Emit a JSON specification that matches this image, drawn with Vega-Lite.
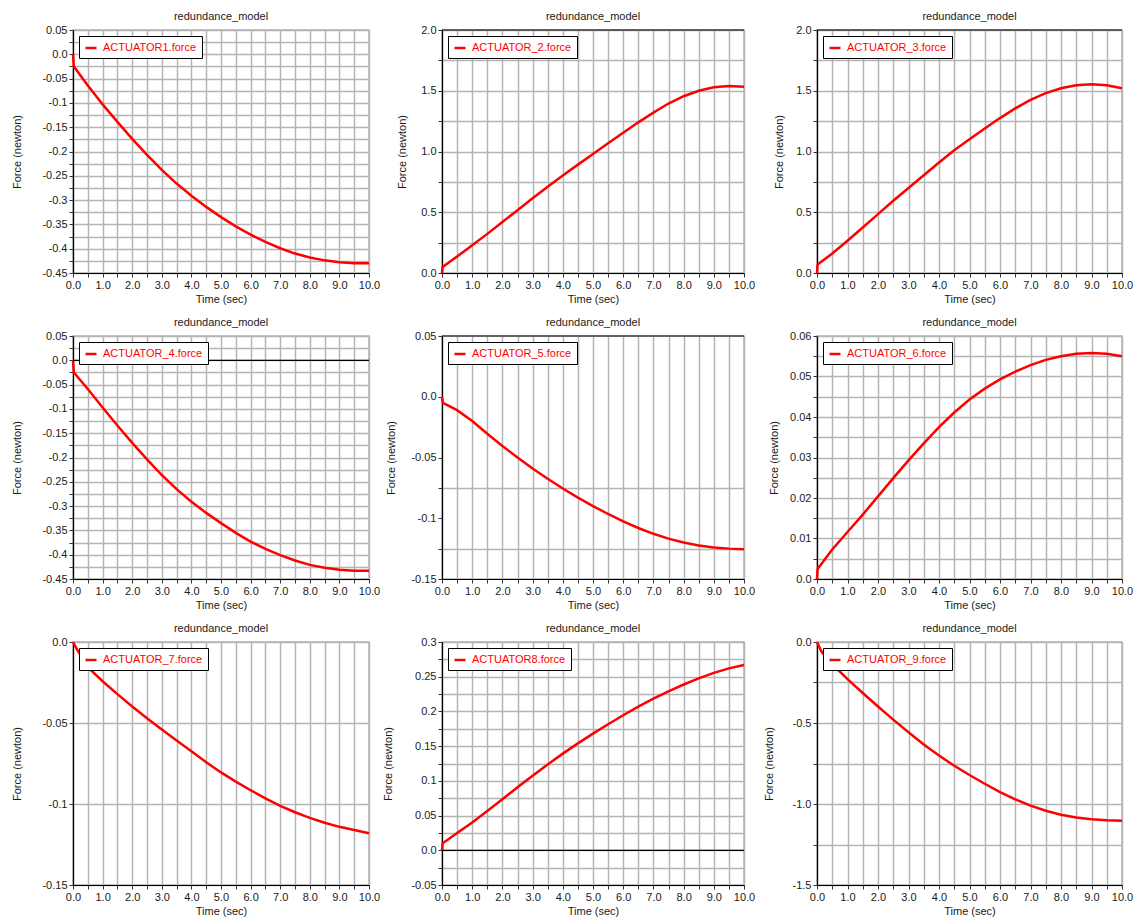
{
  "$schema": "https://vega.github.io/schema/vega-lite/v6.json",
  "padding": {"left": 10, "top": 10, "right": 2, "bottom": 0},
  "autosize": {"type": "pad"},
  "background": "white",
  "data": {"values": [
    {"s":"ACTUATOR1.force","t":0,"f":0},{"s":"ACTUATOR1.force","t":0.03,"f":-0.025},{"s":"ACTUATOR1.force","t":0.5,"f":-0.064},{"s":"ACTUATOR1.force","t":1,"f":-0.103},{"s":"ACTUATOR1.force","t":1.5,"f":-0.139},{"s":"ACTUATOR1.force","t":2,"f":-0.174},{"s":"ACTUATOR1.force","t":2.5,"f":-0.207},{"s":"ACTUATOR1.force","t":3,"f":-0.238},{"s":"ACTUATOR1.force","t":3.5,"f":-0.266},{"s":"ACTUATOR1.force","t":4,"f":-0.291},{"s":"ACTUATOR1.force","t":4.5,"f":-0.314},{"s":"ACTUATOR1.force","t":5,"f":-0.335},{"s":"ACTUATOR1.force","t":5.5,"f":-0.354},{"s":"ACTUATOR1.force","t":6,"f":-0.371},{"s":"ACTUATOR1.force","t":6.5,"f":-0.386},{"s":"ACTUATOR1.force","t":7,"f":-0.399},{"s":"ACTUATOR1.force","t":7.5,"f":-0.41},{"s":"ACTUATOR1.force","t":8,"f":-0.418},{"s":"ACTUATOR1.force","t":8.5,"f":-0.424},{"s":"ACTUATOR1.force","t":9,"f":-0.428},{"s":"ACTUATOR1.force","t":9.5,"f":-0.43},{"s":"ACTUATOR1.force","t":10,"f":-0.43},
    {"s":"ACTUATOR_2.force","t":0,"f":0},{"s":"ACTUATOR_2.force","t":0.02,"f":0.05},{"s":"ACTUATOR_2.force","t":0.5,"f":0.135},{"s":"ACTUATOR_2.force","t":1,"f":0.228},{"s":"ACTUATOR_2.force","t":1.5,"f":0.322},{"s":"ACTUATOR_2.force","t":2,"f":0.42},{"s":"ACTUATOR_2.force","t":2.5,"f":0.517},{"s":"ACTUATOR_2.force","t":3,"f":0.615},{"s":"ACTUATOR_2.force","t":3.5,"f":0.71},{"s":"ACTUATOR_2.force","t":4,"f":0.802},{"s":"ACTUATOR_2.force","t":4.5,"f":0.892},{"s":"ACTUATOR_2.force","t":5,"f":0.98},{"s":"ACTUATOR_2.force","t":5.5,"f":1.068},{"s":"ACTUATOR_2.force","t":6,"f":1.155},{"s":"ACTUATOR_2.force","t":6.5,"f":1.24},{"s":"ACTUATOR_2.force","t":7,"f":1.32},{"s":"ACTUATOR_2.force","t":7.5,"f":1.395},{"s":"ACTUATOR_2.force","t":8,"f":1.455},{"s":"ACTUATOR_2.force","t":8.5,"f":1.5},{"s":"ACTUATOR_2.force","t":9,"f":1.528},{"s":"ACTUATOR_2.force","t":9.5,"f":1.54},{"s":"ACTUATOR_2.force","t":10,"f":1.532},
    {"s":"ACTUATOR_3.force","t":0,"f":0},{"s":"ACTUATOR_3.force","t":0.02,"f":0.07},{"s":"ACTUATOR_3.force","t":0.5,"f":0.16},{"s":"ACTUATOR_3.force","t":1,"f":0.265},{"s":"ACTUATOR_3.force","t":1.5,"f":0.375},{"s":"ACTUATOR_3.force","t":2,"f":0.485},{"s":"ACTUATOR_3.force","t":2.5,"f":0.595},{"s":"ACTUATOR_3.force","t":3,"f":0.7},{"s":"ACTUATOR_3.force","t":3.5,"f":0.805},{"s":"ACTUATOR_3.force","t":4,"f":0.91},{"s":"ACTUATOR_3.force","t":4.5,"f":1.01},{"s":"ACTUATOR_3.force","t":5,"f":1.1},{"s":"ACTUATOR_3.force","t":5.5,"f":1.19},{"s":"ACTUATOR_3.force","t":6,"f":1.275},{"s":"ACTUATOR_3.force","t":6.5,"f":1.355},{"s":"ACTUATOR_3.force","t":7,"f":1.425},{"s":"ACTUATOR_3.force","t":7.5,"f":1.48},{"s":"ACTUATOR_3.force","t":8,"f":1.52},{"s":"ACTUATOR_3.force","t":8.5,"f":1.545},{"s":"ACTUATOR_3.force","t":9,"f":1.553},{"s":"ACTUATOR_3.force","t":9.5,"f":1.545},{"s":"ACTUATOR_3.force","t":10,"f":1.52},
    {"s":"ACTUATOR_4.force","t":0,"f":0},{"s":"ACTUATOR_4.force","t":0.03,"f":-0.025},{"s":"ACTUATOR_4.force","t":0.5,"f":-0.059},{"s":"ACTUATOR_4.force","t":1,"f":-0.097},{"s":"ACTUATOR_4.force","t":1.5,"f":-0.134},{"s":"ACTUATOR_4.force","t":2,"f":-0.17},{"s":"ACTUATOR_4.force","t":2.5,"f":-0.204},{"s":"ACTUATOR_4.force","t":3,"f":-0.236},{"s":"ACTUATOR_4.force","t":3.5,"f":-0.265},{"s":"ACTUATOR_4.force","t":4,"f":-0.291},{"s":"ACTUATOR_4.force","t":4.5,"f":-0.314},{"s":"ACTUATOR_4.force","t":5,"f":-0.335},{"s":"ACTUATOR_4.force","t":5.5,"f":-0.355},{"s":"ACTUATOR_4.force","t":6,"f":-0.373},{"s":"ACTUATOR_4.force","t":6.5,"f":-0.388},{"s":"ACTUATOR_4.force","t":7,"f":-0.401},{"s":"ACTUATOR_4.force","t":7.5,"f":-0.412},{"s":"ACTUATOR_4.force","t":8,"f":-0.421},{"s":"ACTUATOR_4.force","t":8.5,"f":-0.427},{"s":"ACTUATOR_4.force","t":9,"f":-0.431},{"s":"ACTUATOR_4.force","t":9.5,"f":-0.433},{"s":"ACTUATOR_4.force","t":10,"f":-0.433},
    {"s":"ACTUATOR_5.force","t":0,"f":0},{"s":"ACTUATOR_5.force","t":0.03,"f":-0.005},{"s":"ACTUATOR_5.force","t":0.5,"f":-0.011},{"s":"ACTUATOR_5.force","t":1,"f":-0.02},{"s":"ACTUATOR_5.force","t":1.5,"f":-0.0305},{"s":"ACTUATOR_5.force","t":2,"f":-0.0405},{"s":"ACTUATOR_5.force","t":2.5,"f":-0.05},{"s":"ACTUATOR_5.force","t":3,"f":-0.059},{"s":"ACTUATOR_5.force","t":3.5,"f":-0.0675},{"s":"ACTUATOR_5.force","t":4,"f":-0.0755},{"s":"ACTUATOR_5.force","t":4.5,"f":-0.083},{"s":"ACTUATOR_5.force","t":5,"f":-0.09},{"s":"ACTUATOR_5.force","t":5.5,"f":-0.0965},{"s":"ACTUATOR_5.force","t":6,"f":-0.1025},{"s":"ACTUATOR_5.force","t":6.5,"f":-0.108},{"s":"ACTUATOR_5.force","t":7,"f":-0.1128},{"s":"ACTUATOR_5.force","t":7.5,"f":-0.1168},{"s":"ACTUATOR_5.force","t":8,"f":-0.12},{"s":"ACTUATOR_5.force","t":8.5,"f":-0.1225},{"s":"ACTUATOR_5.force","t":9,"f":-0.124},{"s":"ACTUATOR_5.force","t":9.5,"f":-0.125},{"s":"ACTUATOR_5.force","t":10,"f":-0.1255},
    {"s":"ACTUATOR_6.force","t":0,"f":0},{"s":"ACTUATOR_6.force","t":0.02,"f":0.0025},{"s":"ACTUATOR_6.force","t":0.5,"f":0.0073},{"s":"ACTUATOR_6.force","t":1,"f":0.0116},{"s":"ACTUATOR_6.force","t":1.5,"f":0.0159},{"s":"ACTUATOR_6.force","t":2,"f":0.0204},{"s":"ACTUATOR_6.force","t":2.5,"f":0.0249},{"s":"ACTUATOR_6.force","t":3,"f":0.0293},{"s":"ACTUATOR_6.force","t":3.5,"f":0.0335},{"s":"ACTUATOR_6.force","t":4,"f":0.0375},{"s":"ACTUATOR_6.force","t":4.5,"f":0.0411},{"s":"ACTUATOR_6.force","t":5,"f":0.0443},{"s":"ACTUATOR_6.force","t":5.5,"f":0.047},{"s":"ACTUATOR_6.force","t":6,"f":0.0493},{"s":"ACTUATOR_6.force","t":6.5,"f":0.0512},{"s":"ACTUATOR_6.force","t":7,"f":0.0528},{"s":"ACTUATOR_6.force","t":7.5,"f":0.0541},{"s":"ACTUATOR_6.force","t":8,"f":0.055},{"s":"ACTUATOR_6.force","t":8.5,"f":0.0556},{"s":"ACTUATOR_6.force","t":9,"f":0.0558},{"s":"ACTUATOR_6.force","t":9.5,"f":0.0556},{"s":"ACTUATOR_6.force","t":10,"f":0.055},
    {"s":"ACTUATOR_7.force","t":0,"f":0},{"s":"ACTUATOR_7.force","t":0.15,"f":-0.005},{"s":"ACTUATOR_7.force","t":0.5,"f":-0.0155},{"s":"ACTUATOR_7.force","t":1,"f":-0.0242},{"s":"ACTUATOR_7.force","t":1.5,"f":-0.0322},{"s":"ACTUATOR_7.force","t":2,"f":-0.0398},{"s":"ACTUATOR_7.force","t":2.5,"f":-0.0471},{"s":"ACTUATOR_7.force","t":3,"f":-0.054},{"s":"ACTUATOR_7.force","t":3.5,"f":-0.0608},{"s":"ACTUATOR_7.force","t":4,"f":-0.0675},{"s":"ACTUATOR_7.force","t":4.5,"f":-0.0742},{"s":"ACTUATOR_7.force","t":5,"f":-0.0805},{"s":"ACTUATOR_7.force","t":5.5,"f":-0.0862},{"s":"ACTUATOR_7.force","t":6,"f":-0.0915},{"s":"ACTUATOR_7.force","t":6.5,"f":-0.0965},{"s":"ACTUATOR_7.force","t":7,"f":-0.1011},{"s":"ACTUATOR_7.force","t":7.5,"f":-0.1051},{"s":"ACTUATOR_7.force","t":8,"f":-0.1086},{"s":"ACTUATOR_7.force","t":8.5,"f":-0.1116},{"s":"ACTUATOR_7.force","t":9,"f":-0.1141},{"s":"ACTUATOR_7.force","t":9.5,"f":-0.1161},{"s":"ACTUATOR_7.force","t":10,"f":-0.118},
    {"s":"ACTUATOR8.force","t":0,"f":0},{"s":"ACTUATOR8.force","t":0.02,"f":0.01},{"s":"ACTUATOR8.force","t":0.5,"f":0.025},{"s":"ACTUATOR8.force","t":1,"f":0.04},{"s":"ACTUATOR8.force","t":1.5,"f":0.0565},{"s":"ACTUATOR8.force","t":2,"f":0.0735},{"s":"ACTUATOR8.force","t":2.5,"f":0.0908},{"s":"ACTUATOR8.force","t":3,"f":0.1075},{"s":"ACTUATOR8.force","t":3.5,"f":0.1237},{"s":"ACTUATOR8.force","t":4,"f":0.1392},{"s":"ACTUATOR8.force","t":4.5,"f":0.154},{"s":"ACTUATOR8.force","t":5,"f":0.168},{"s":"ACTUATOR8.force","t":5.5,"f":0.1815},{"s":"ACTUATOR8.force","t":6,"f":0.1945},{"s":"ACTUATOR8.force","t":6.5,"f":0.2068},{"s":"ACTUATOR8.force","t":7,"f":0.2183},{"s":"ACTUATOR8.force","t":7.5,"f":0.229},{"s":"ACTUATOR8.force","t":8,"f":0.2388},{"s":"ACTUATOR8.force","t":8.5,"f":0.2477},{"s":"ACTUATOR8.force","t":9,"f":0.2555},{"s":"ACTUATOR8.force","t":9.5,"f":0.262},{"s":"ACTUATOR8.force","t":10,"f":0.267},
    {"s":"ACTUATOR_9.force","t":0,"f":0},{"s":"ACTUATOR_9.force","t":0.15,"f":-0.06},{"s":"ACTUATOR_9.force","t":0.5,"f":-0.137},{"s":"ACTUATOR_9.force","t":1,"f":-0.229},{"s":"ACTUATOR_9.force","t":1.5,"f":-0.315},{"s":"ACTUATOR_9.force","t":2,"f":-0.398},{"s":"ACTUATOR_9.force","t":2.5,"f":-0.479},{"s":"ACTUATOR_9.force","t":3,"f":-0.557},{"s":"ACTUATOR_9.force","t":3.5,"f":-0.632},{"s":"ACTUATOR_9.force","t":4,"f":-0.701},{"s":"ACTUATOR_9.force","t":4.5,"f":-0.764},{"s":"ACTUATOR_9.force","t":5,"f":-0.821},{"s":"ACTUATOR_9.force","t":5.5,"f":-0.875},{"s":"ACTUATOR_9.force","t":6,"f":-0.926},{"s":"ACTUATOR_9.force","t":6.5,"f":-0.971},{"s":"ACTUATOR_9.force","t":7,"f":-1.01},{"s":"ACTUATOR_9.force","t":7.5,"f":-1.042},{"s":"ACTUATOR_9.force","t":8,"f":-1.066},{"s":"ACTUATOR_9.force","t":8.5,"f":-1.083},{"s":"ACTUATOR_9.force","t":9,"f":-1.094},{"s":"ACTUATOR_9.force","t":9.5,"f":-1.1},{"s":"ACTUATOR_9.force","t":10,"f":-1.103}
  ]},
  "config": {
    "font": "Liberation Sans",
    "view": {"stroke": "#b4b4b4", "strokeWidth": 1.5},
    "axis": {"gridColor": "#b4b4b4", "gridWidth": 1.5, "domainColor": "#000000", "domainWidth": 1.2, "tickColor": "#333333", "tickSize": 4, "labelFont": "Liberation Sans", "labelFontSize": 11, "labelColor": "#1a1a1a", "titleFont": "Liberation Sans", "titleFontSize": 11, "titleFontWeight": "normal", "titleColor": "#1a1a1a", "labelPadding": 2, "labelOverlap": false, "labelFlush": false},
    "axisX": {"titlePadding": 3},
    "title": {"fontSize": 11, "fontWeight": "normal", "font": "Liberation Sans", "color": "#1a1a1a", "offset": 2},
    "legend": {"orient": "top-left", "offset": 6, "fillColor": "white", "strokeColor": "black", "padding": 5, "labelColor": "#ff0000", "labelFont": "Liberation Sans", "labelFontSize": 11, "symbolType": "stroke", "symbolStrokeWidth": 2, "symbolSize": 120, "labelOffset": 5},
    "line": {"strokeWidth": 2.5}
  },
  "columns": 3,
  "spacing": {"row": 63, "column": 73},
  "bounds": "flush",
  "resolve": {"scale": {"color": "independent"}, "legend": {"color": "independent"}},
  "concat": [
    {
      "width": 296, "height": 243, "title": "redundance_model",
      "transform": [{"filter": "datum.s == 'ACTUATOR1.force'"}],
      "mark": {"type": "line"},
      "encoding": {
        "x": {"field": "t", "type": "quantitative", "scale": {"domain": [0, 10], "nice": false}, "axis": {"title": "Time (sec)", "labelOverlap": false, "values": [0,0.5,1,1.5,2,2.5,3,3.5,4,4.5,5,5.5,6,6.5,7,7.5,8,8.5,9,9.5,10], "labelExpr": "datum.value % 1 == 0 ? format(datum.value, '.1f') : ''"}},
        "y": {"field": "f", "type": "quantitative", "scale": {"domain": [-0.45, 0.05], "nice": false, "zero": false}, "axis": {"title": "Force (newton)", "titleX": -51, "labelOverlap": false, "values": [0.05,0.025,0,-0.025,-0.05,-0.075,-0.1,-0.125,-0.15,-0.175,-0.2,-0.225,-0.25,-0.275,-0.3,-0.325,-0.35,-0.375,-0.4,-0.425,-0.45], "labelExpr": "abs(datum.value/0.05 - round(datum.value/0.05)) < 0.01 ? (datum.value == 0 ? '0.0' : replace(format(datum.value, '~g'), '−', '-')) : ''"}},
        "color": {"field": "s", "type": "nominal", "scale": {"range": ["#ff0000"]}, "title": null}
      }
    },
    {
      "width": 302, "height": 243, "title": "redundance_model",
      "layer": [
        {
          "transform": [{"filter": "datum.s == 'ACTUATOR_2.force'"}],
          "mark": {"type": "line"},
          "encoding": {
            "x": {"field": "t", "type": "quantitative", "scale": {"domain": [0, 10], "nice": false}, "axis": {"title": "Time (sec)", "labelOverlap": false, "values": [0,0.5,1,1.5,2,2.5,3,3.5,4,4.5,5,5.5,6,6.5,7,7.5,8,8.5,9,9.5,10], "labelExpr": "datum.value % 1 == 0 ? format(datum.value, '.1f') : ''"}},
            "y": {"field": "f", "type": "quantitative", "scale": {"domain": [0, 2], "nice": false, "zero": false}, "axis": {"title": "Force (newton)", "titleX": -35, "labelOverlap": false, "values": [0,0.25,0.5,0.75,1,1.25,1.5,1.75,2], "labelExpr": "abs(datum.value/0.5 - round(datum.value/0.5)) < 0.01 ? replace(format(datum.value, '.1f'), '−', '-') : ''"}},
            "color": {"field": "s", "type": "nominal", "scale": {"range": ["#ff0000"]}, "title": null}
          }
        },
        {"data": {"values": [{}]}, "mark": {"type": "rule", "color": "black", "strokeWidth": 1.2}, "encoding": {"y": {"datum": 2, "type": "quantitative", "scale": {"domain": [0, 2], "nice": false, "zero": false}, "axis": {"title": "Force (newton)", "titleX": -35, "labelOverlap": false, "values": [0,0.25,0.5,0.75,1,1.25,1.5,1.75,2], "labelExpr": "abs(datum.value/0.5 - round(datum.value/0.5)) < 0.01 ? replace(format(datum.value, '.1f'), '−', '-') : ''"}}}}
      ]
    },
    {
      "width": 305, "height": 243, "title": "redundance_model",
      "layer": [
        {
          "transform": [{"filter": "datum.s == 'ACTUATOR_3.force'"}],
          "mark": {"type": "line"},
          "encoding": {
            "x": {"field": "t", "type": "quantitative", "scale": {"domain": [0, 10], "nice": false}, "axis": {"title": "Time (sec)", "labelOverlap": false, "values": [0,0.5,1,1.5,2,2.5,3,3.5,4,4.5,5,5.5,6,6.5,7,7.5,8,8.5,9,9.5,10], "labelExpr": "datum.value % 1 == 0 ? format(datum.value, '.1f') : ''"}},
            "y": {"field": "f", "type": "quantitative", "scale": {"domain": [0, 2], "nice": false, "zero": false}, "axis": {"title": "Force (newton)", "titleX": -33, "labelOverlap": false, "values": [0,0.25,0.5,0.75,1,1.25,1.5,1.75,2], "labelExpr": "abs(datum.value/0.5 - round(datum.value/0.5)) < 0.01 ? replace(format(datum.value, '.1f'), '−', '-') : ''"}},
            "color": {"field": "s", "type": "nominal", "scale": {"range": ["#ff0000"]}, "title": null}
          }
        },
        {"data": {"values": [{}]}, "mark": {"type": "rule", "color": "black", "strokeWidth": 1.2}, "encoding": {"y": {"datum": 2, "type": "quantitative", "scale": {"domain": [0, 2], "nice": false, "zero": false}, "axis": {"title": "Force (newton)", "titleX": -33, "labelOverlap": false, "values": [0,0.25,0.5,0.75,1,1.25,1.5,1.75,2], "labelExpr": "abs(datum.value/0.5 - round(datum.value/0.5)) < 0.01 ? replace(format(datum.value, '.1f'), '−', '-') : ''"}}}}
      ]
    },
    {
      "width": 296, "height": 243, "title": "redundance_model",
      "layer": [
        {
          "transform": [{"filter": "datum.s == 'ACTUATOR_4.force'"}],
          "mark": {"type": "line"},
          "encoding": {
            "x": {"field": "t", "type": "quantitative", "scale": {"domain": [0, 10], "nice": false}, "axis": {"title": "Time (sec)", "labelOverlap": false, "values": [0,0.5,1,1.5,2,2.5,3,3.5,4,4.5,5,5.5,6,6.5,7,7.5,8,8.5,9,9.5,10], "labelExpr": "datum.value % 1 == 0 ? format(datum.value, '.1f') : ''"}},
            "y": {"field": "f", "type": "quantitative", "scale": {"domain": [-0.45, 0.05], "nice": false, "zero": false}, "axis": {"title": "Force (newton)", "titleX": -51, "labelOverlap": false, "values": [0.05,0.025,0,-0.025,-0.05,-0.075,-0.1,-0.125,-0.15,-0.175,-0.2,-0.225,-0.25,-0.275,-0.3,-0.325,-0.35,-0.375,-0.4,-0.425,-0.45], "labelExpr": "abs(datum.value/0.05 - round(datum.value/0.05)) < 0.01 ? (datum.value == 0 ? '0.0' : replace(format(datum.value, '~g'), '−', '-')) : ''"}},
            "color": {"field": "s", "type": "nominal", "scale": {"range": ["#ff0000"]}, "title": null}
          }
        },
        {"data": {"values": [{}]}, "mark": {"type": "rule", "color": "black", "strokeWidth": 1.2}, "encoding": {"y": {"datum": 0, "type": "quantitative", "scale": {"domain": [-0.45, 0.05], "nice": false, "zero": false}, "axis": {"title": "Force (newton)", "titleX": -51, "labelOverlap": false, "values": [0.05,0.025,0,-0.025,-0.05,-0.075,-0.1,-0.125,-0.15,-0.175,-0.2,-0.225,-0.25,-0.275,-0.3,-0.325,-0.35,-0.375,-0.4,-0.425,-0.45], "labelExpr": "abs(datum.value/0.05 - round(datum.value/0.05)) < 0.01 ? (datum.value == 0 ? '0.0' : replace(format(datum.value, '~g'), '−', '-')) : ''"}}}}
      ]
    },
    {
      "width": 302, "height": 243, "title": "redundance_model",
      "layer": [
        {
          "transform": [{"filter": "datum.s == 'ACTUATOR_5.force'"}],
          "mark": {"type": "line"},
          "encoding": {
            "x": {"field": "t", "type": "quantitative", "scale": {"domain": [0, 10], "nice": false}, "axis": {"title": "Time (sec)", "labelOverlap": false, "values": [0,0.5,1,1.5,2,2.5,3,3.5,4,4.5,5,5.5,6,6.5,7,7.5,8,8.5,9,9.5,10], "labelExpr": "datum.value % 1 == 0 ? format(datum.value, '.1f') : ''"}},
            "y": {"field": "f", "type": "quantitative", "scale": {"domain": [-0.15, 0.05], "nice": false, "zero": false}, "axis": {"title": "Force (newton)", "titleX": -46, "labelOverlap": false, "values": [0.05,0,-0.05,-0.075,-0.1,-0.125,-0.15], "gridOpacity": {"condition": {"test": "datum.value == -0.075 || datum.value == -0.125", "value": 1}, "value": 0}, "labelExpr": "abs(datum.value/0.05 - round(datum.value/0.05)) < 0.01 ? (datum.value == 0 ? '0.0' : replace(format(datum.value, '~g'), '−', '-')) : ''"}},
            "color": {"field": "s", "type": "nominal", "scale": {"range": ["#ff0000"]}, "title": null}
          }
        },
        {"data": {"values": [{}]}, "mark": {"type": "rule", "color": "black", "strokeWidth": 1.2}, "encoding": {"y": {"datum": 0.05, "type": "quantitative", "scale": {"domain": [-0.15, 0.05], "nice": false, "zero": false}, "axis": {"title": "Force (newton)", "titleX": -46, "labelOverlap": false, "values": [0.05,0,-0.05,-0.075,-0.1,-0.125,-0.15], "gridOpacity": {"condition": {"test": "datum.value == -0.075 || datum.value == -0.125", "value": 1}, "value": 0}, "labelExpr": "abs(datum.value/0.05 - round(datum.value/0.05)) < 0.01 ? (datum.value == 0 ? '0.0' : replace(format(datum.value, '~g'), '−', '-')) : ''"}}}}
      ]
    },
    {
      "width": 305, "height": 243, "title": "redundance_model",
      "transform": [{"filter": "datum.s == 'ACTUATOR_6.force'"}],
      "mark": {"type": "line"},
      "encoding": {
        "x": {"field": "t", "type": "quantitative", "scale": {"domain": [0, 10], "nice": false}, "axis": {"title": "Time (sec)", "labelOverlap": false, "values": [0,0.5,1,1.5,2,2.5,3,3.5,4,4.5,5,5.5,6,6.5,7,7.5,8,8.5,9,9.5,10], "labelExpr": "datum.value % 1 == 0 ? format(datum.value, '.1f') : ''"}},
        "y": {"field": "f", "type": "quantitative", "scale": {"domain": [0, 0.06], "nice": false, "zero": false}, "axis": {"title": "Force (newton)", "titleX": -38, "labelOverlap": false, "values": [0,0.005,0.01,0.015,0.02,0.025,0.03,0.035,0.04,0.045,0.05,0.055,0.06], "labelExpr": "abs(datum.value/0.01 - round(datum.value/0.01)) < 0.01 ? (datum.value == 0 ? '0.0' : replace(format(datum.value, '~g'), '−', '-')) : ''"}},
        "color": {"field": "s", "type": "nominal", "scale": {"range": ["#ff0000"]}, "title": null}
      }
    },
    {
      "width": 296, "height": 243, "title": "redundance_model",
      "transform": [{"filter": "datum.s == 'ACTUATOR_7.force'"}],
      "mark": {"type": "line"},
      "encoding": {
        "x": {"field": "t", "type": "quantitative", "scale": {"domain": [0, 10], "nice": false}, "axis": {"title": "Time (sec)", "labelOverlap": false, "values": [0,0.5,1,1.5,2,2.5,3,3.5,4,4.5,5,5.5,6,6.5,7,7.5,8,8.5,9,9.5,10], "labelExpr": "datum.value % 1 == 0 ? format(datum.value, '.1f') : ''"}},
        "y": {"field": "f", "type": "quantitative", "scale": {"domain": [-0.15, 0], "nice": false, "zero": false}, "axis": {"title": "Force (newton)", "titleX": -51, "labelOverlap": false, "values": [0,-0.05,-0.1,-0.15], "labelExpr": "datum.value == 0 ? '0.0' : replace(format(datum.value, '~g'), '−', '-')"}},
        "color": {"field": "s", "type": "nominal", "scale": {"range": ["#ff0000"]}, "title": null}
      }
    },
    {
      "width": 302, "height": 243, "title": "redundance_model",
      "layer": [
        {
          "transform": [{"filter": "datum.s == 'ACTUATOR8.force'"}],
          "mark": {"type": "line"},
          "encoding": {
            "x": {"field": "t", "type": "quantitative", "scale": {"domain": [0, 10], "nice": false}, "axis": {"title": "Time (sec)", "labelOverlap": false, "values": [0,0.5,1,1.5,2,2.5,3,3.5,4,4.5,5,5.5,6,6.5,7,7.5,8,8.5,9,9.5,10], "labelExpr": "datum.value % 1 == 0 ? format(datum.value, '.1f') : ''"}},
            "y": {"field": "f", "type": "quantitative", "scale": {"domain": [-0.05, 0.3], "nice": false, "zero": false}, "axis": {"title": "Force (newton)", "titleX": -49, "labelOverlap": false, "values": [-0.05,-0.025,0,0.025,0.05,0.075,0.1,0.125,0.15,0.175,0.2,0.225,0.25,0.275,0.3], "labelExpr": "abs(datum.value/0.05 - round(datum.value/0.05)) < 0.01 ? (datum.value == 0 ? '0.0' : replace(format(datum.value, '~g'), '−', '-')) : ''"}},
            "color": {"field": "s", "type": "nominal", "scale": {"range": ["#ff0000"]}, "title": null}
          }
        },
        {"data": {"values": [{}]}, "mark": {"type": "rule", "color": "black", "strokeWidth": 1.2}, "encoding": {"y": {"datum": 0, "type": "quantitative", "scale": {"domain": [-0.05, 0.3], "nice": false, "zero": false}, "axis": {"title": "Force (newton)", "titleX": -49, "labelOverlap": false, "values": [-0.05,-0.025,0,0.025,0.05,0.075,0.1,0.125,0.15,0.175,0.2,0.225,0.25,0.275,0.3], "labelExpr": "abs(datum.value/0.05 - round(datum.value/0.05)) < 0.01 ? (datum.value == 0 ? '0.0' : replace(format(datum.value, '~g'), '−', '-')) : ''"}}}}
      ]
    },
    {
      "width": 305, "height": 243, "title": "redundance_model",
      "transform": [{"filter": "datum.s == 'ACTUATOR_9.force'"}],
      "mark": {"type": "line"},
      "encoding": {
        "x": {"field": "t", "type": "quantitative", "scale": {"domain": [0, 10], "nice": false}, "axis": {"title": "Time (sec)", "labelOverlap": false, "values": [0,0.5,1,1.5,2,2.5,3,3.5,4,4.5,5,5.5,6,6.5,7,7.5,8,8.5,9,9.5,10], "labelExpr": "datum.value % 1 == 0 ? format(datum.value, '.1f') : ''"}},
        "y": {"field": "f", "type": "quantitative", "scale": {"domain": [-1.5, 0], "nice": false, "zero": false}, "axis": {"title": "Force (newton)", "titleX": -43, "labelOverlap": false, "values": [0,-0.25,-0.5,-0.75,-1,-1.25,-1.5], "labelExpr": "abs(datum.value/0.5 - round(datum.value/0.5)) < 0.01 ? replace(format(datum.value, '.1f'), '−', '-') : ''"}},
        "color": {"field": "s", "type": "nominal", "scale": {"range": ["#ff0000"]}, "title": null}
      }
    }
  ]
}
